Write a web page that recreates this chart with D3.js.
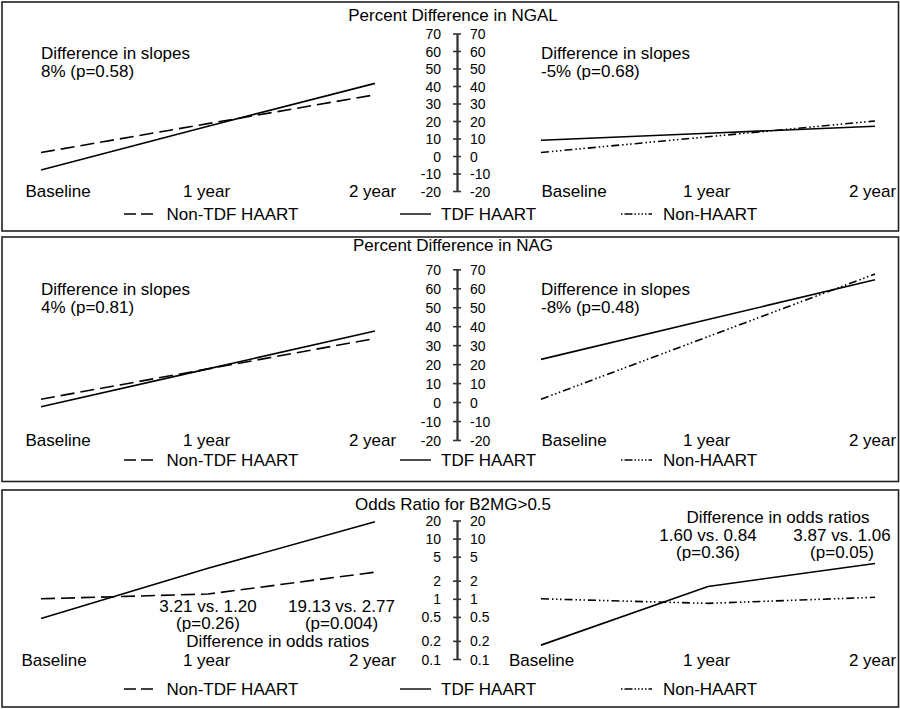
<!DOCTYPE html>
<html>
<head>
<meta charset="utf-8">
<script src="https://cdn.jsdelivr.net/npm/d3@7"></script>
<style>
  body { margin: 0; background: #fff; }
  text { font-family: "Liberation Sans", Arial, sans-serif; fill: #000; }
</style>
</head>
<body>
<script>
// time points on the x axis
var timepoints = ["Baseline", "1 year", "2 year"];
var seriesNames = ["Non-TDF HAART", "TDF HAART", "Non-HAART"];

// panel 1: percent difference in NGAL
var ngalNonTdf   = [2, 18.5, 35];
var ngalTdfLeft  = [-8, 17, 41.5];
var ngalTdfRight = [9, 13, 17];
var ngalNonHaart = [2, 11, 20];

// panel 2: percent difference in NAG
var nagNonTdf   = [1.5, 17.5, 33.5];
var nagTdfLeft  = [-2.5, 17.5, 37.5];
var nagTdfRight = [22.5, 43.5, 64.5];
var nagNonHaart = [1.5, 34.5, 67.5];

// panel 3: odds ratio for B2MG>0.5
var b2mgNonTdf   = [1, 1.20, 2.77];
var b2mgTdfLeft  = [0.47, 3.21, 19.13];
var b2mgTdfRight = [0.17, 1.60, 3.87];
var b2mgNonHaart = [1, 0.84, 1.06];

var pctTicks = [70, 60, 50, 40, 30, 20, 10, 0, -10, -20];
var orTicks = [20, 10, 5, 2, 1, 0.5, 0.2, 0.1];

var titles = ["Percent Difference in NGAL", "Percent Difference in NAG", "Odds Ratio for B2MG>0.5"];
var slopeNotes = [
  [["Difference in slopes", "8% (p=0.58)"], ["Difference in slopes", "-5% (p=0.68)"]],
  [["Difference in slopes", "4% (p=0.81)"], ["Difference in slopes", "-8% (p=0.48)"]]
];
var orHeader = "Difference in odds ratios";
var orNotesLeft = [["3.21 vs. 1.20", "(p=0.26)"], ["19.13 vs. 2.77", "(p=0.004)"]];
var orNotesRight = [["1.60 vs. 0.84", "(p=0.36)"], ["3.87 vs. 1.06", "(p=0.05)"]];

var width = 900, height = 709;
var axisX = 457;
var FS = 17;

var dashStyles = {
  "Non-TDF HAART": "14,6",
  "TDF HAART": null,
  "Non-HAART": "8,3,1.5,2.5,1.5,2.5,1.5,3"
};

var svg = d3.select("body").append("svg")
  .attr("width", width)
  .attr("height", height);

var xLeft = d3.scalePoint().domain(timepoints).range([41, 375]);
var xRight = d3.scalePoint().domain(timepoints).range([541, 875]);

var panels = [
  {
    title: titles[0], box: [2, 231], titleY: 15, axisRange: [191, 33.5],
    y: d3.scaleLinear().domain([-20, 70]), ticks: pctTicks,
    labelY: 191.5, legendY: 214, baseDx: [17, 33],
    left: [["Non-TDF HAART", ngalNonTdf], ["TDF HAART", ngalTdfLeft]],
    right: [["TDF HAART", ngalTdfRight], ["Non-HAART", ngalNonHaart]],
    notes: slopeNotes[0], noteY: 53
  },
  {
    title: titles[1], box: [237, 481.5], titleY: 245, axisRange: [440, 269.3],
    y: d3.scaleLinear().domain([-20, 70]), ticks: pctTicks,
    labelY: 440, legendY: 460, baseDx: [17, 33],
    left: [["Non-TDF HAART", nagNonTdf], ["TDF HAART", nagTdfLeft]],
    right: [["TDF HAART", nagTdfRight], ["Non-HAART", nagNonHaart]],
    notes: slopeNotes[1], noteY: 289.3
  },
  {
    title: titles[2], box: [490, 707], titleY: 504, axisRange: [659, 520.5],
    y: d3.scaleLog().domain([0.1, 20]), ticks: orTicks,
    labelY: 660, legendY: 689, baseDx: [13, 0.5],
    left: [["Non-TDF HAART", b2mgNonTdf], ["TDF HAART", b2mgTdfLeft]],
    right: [["TDF HAART", b2mgTdfRight], ["Non-HAART", b2mgNonHaart]],
    odds: true
  }
];

panels.forEach(function(p) {
  p.y.range(p.axisRange);
  var g = svg.append("g");

  g.append("rect")
    .attr("x", 2).attr("y", p.box[0])
    .attr("width", 896.5).attr("height", p.box[1] - p.box[0])
    .attr("fill", "none").attr("stroke", "#222").attr("stroke-width", 1.6);

  g.append("text")
    .attr("x", 453).attr("y", p.titleY)
    .attr("text-anchor", "middle").attr("dominant-baseline", "central")
    .style("font-size", FS + "px")
    .text(p.title);

  // centre axis, labels on both sides
  var fmt = function(d) { return String(d); };
  var axL = g.append("g").attr("transform", "translate(" + axisX + ",0)")
    .call(d3.axisLeft(p.y).tickValues(p.ticks).tickFormat(fmt).tickSize(4).tickSizeOuter(0).tickPadding(12));
  var axR = g.append("g").attr("transform", "translate(" + axisX + ",0)")
    .call(d3.axisRight(p.y).tickValues(p.ticks).tickFormat(fmt).tickSize(4).tickSizeOuter(0).tickPadding(9));
  [axL, axR].forEach(function(ax) {
    ax.select(".domain").attr("stroke", "#333").attr("stroke-width", 1.8);
    ax.selectAll(".tick line").attr("stroke", "#333").attr("stroke-width", 1.6);
    ax.selectAll(".tick text")
      .attr("font-family", null)
      .style("font-size", "14px").attr("fill", "#000")
      .attr("dy", null).attr("dominant-baseline", "central");
  });

  var sides = [[xLeft, p.left], [xRight, p.right]];
  sides.forEach(function(s, si) {
    var x = s[0];
    var line = d3.line()
      .x(function(d, i) { return x(timepoints[i]); })
      .y(function(d) { return p.y(d); });

    s[1].forEach(function(ser) {
      g.append("path")
        .datum(ser[1])
        .attr("d", line)
        .attr("fill", "none")
        .attr("stroke", "#000")
        .attr("stroke-width", 1.6)
        .attr("stroke-dasharray", dashStyles[ser[0]]);
    });

    // x labels
    g.selectAll(null)
      .data(timepoints)
      .enter().append("text")
      .attr("x", function(d, i) {
        var dx = i === 0 ? p.baseDx[si] : (i === 1 ? -1.5 : -2.5);
        return x(d) + dx;
      })
      .attr("y", p.labelY)
      .attr("text-anchor", "middle").attr("dominant-baseline", "central")
      .style("font-size", FS + "px")
      .text(function(d) { return d; });

    if (p.notes) {
      g.append("text")
        .attr("x", x(timepoints[0])).attr("y", p.noteY)
        .attr("dominant-baseline", "central")
        .style("font-size", FS + "px")
        .text(p.notes[si][0]);
      g.append("text")
        .attr("x", x(timepoints[0])).attr("y", p.noteY + 18.3)
        .attr("dominant-baseline", "central")
        .style("font-size", FS + "px")
        .text(p.notes[si][1]);
    }
  });

  if (p.odds) {
    // left: values under the lines, header below
    orNotesLeft.forEach(function(n, i) {
      var cx = xLeft(timepoints[i + 1]) + (i === 0 ? 0 : -33.5);
      n.forEach(function(t, j) {
        g.append("text")
          .attr("x", cx).attr("y", 606 + j * 17.5)
          .attr("text-anchor", "middle").attr("dominant-baseline", "central")
          .style("font-size", FS + "px").text(t);
      });
    });
    g.append("text")
      .attr("x", (xLeft(timepoints[1]) + xLeft(timepoints[2]) - 33.5) / 2 + 3)
      .attr("y", 641.5)
      .attr("text-anchor", "middle").attr("dominant-baseline", "central")
      .style("font-size", FS + "px").text(orHeader);

    // right: header on top, values below
    g.append("text")
      .attr("x", (xRight(timepoints[1]) + xRight(timepoints[2]) - 33) / 2 + 3)
      .attr("y", 517.7)
      .attr("text-anchor", "middle").attr("dominant-baseline", "central")
      .style("font-size", FS + "px").text(orHeader);
    orNotesRight.forEach(function(n, i) {
      var cx = xRight(timepoints[i + 1]) + (i === 0 ? 0 : -33);
      n.forEach(function(t, j) {
        g.append("text")
          .attr("x", cx).attr("y", 535 + j * 17.7)
          .attr("text-anchor", "middle").attr("dominant-baseline", "central")
          .style("font-size", FS + "px").text(t);
      });
    });
  }

  // legend
  var legX = [[124, 154, 166.5], [400, 431, 441], [621, 652, 663]];
  seriesNames.forEach(function(name, i) {
    g.append("line")
      .attr("x1", legX[i][0]).attr("x2", legX[i][1])
      .attr("y1", p.legendY).attr("y2", p.legendY)
      .attr("stroke", "#000").attr("stroke-width", 1.4)
      .attr("stroke-dasharray", i === 0 ? "12,5" : (i === 2 ? "1.5,2,8,2,1.5,2,1.5,2,1.5,2" : null));
    g.append("text")
      .attr("x", legX[i][2]).attr("y", p.legendY)
      .attr("dominant-baseline", "central")
      .style("font-size", FS + "px")
      .text(name);
  });
});
</script>
</body>
</html>
